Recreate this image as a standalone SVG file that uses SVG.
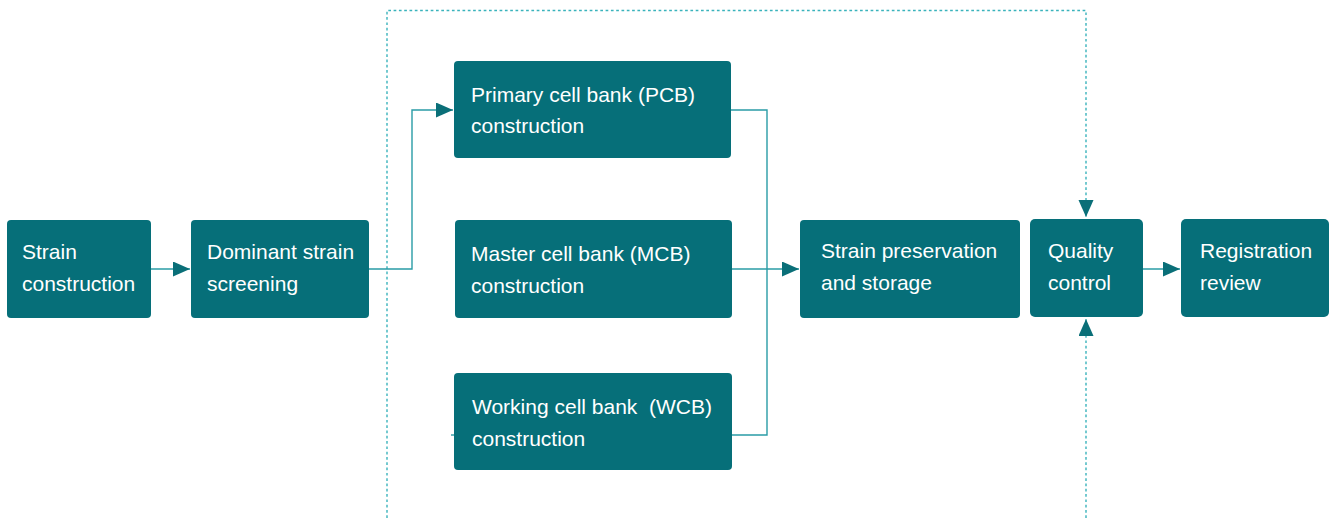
<svg xmlns="http://www.w3.org/2000/svg" width="1331" height="518" viewBox="0 0 1331 518">
<style>
.box{fill:#066f79;}
.t{font-family:"Liberation Sans",Arial,sans-serif;font-size:21px;fill:#ffffff;}
.ln{fill:none;stroke:#2a9ca6;stroke-width:1.4;}
.dot{fill:none;stroke:#3ab3bc;stroke-width:1.4;stroke-dasharray:2.7 2.6;}
</style>
<defs>
<marker id="ah" markerUnits="userSpaceOnUse" markerWidth="18" markerHeight="16" refX="17" refY="7.5" orient="auto">
<path d="M0,0 L17,7.5 L0,15 z" fill="#0a6f78"/>
</marker>
</defs>
<rect width="1331" height="518" fill="#ffffff"/>
<g id="connectors">
<path class="dot" d="M387,518 V10.5 H1086 V217" marker-end="url(#ah)"/>
<path class="dot" d="M1086,518 V319" marker-end="url(#ah)"/>
<path class="ln" d="M151,269 H190" marker-end="url(#ah)"/>
<path class="ln" d="M369,269 H412 V110 H453" marker-end="url(#ah)"/>
<path class="ln" d="M731,110 H767 V435 H732"/>
<path class="ln" d="M732,269 H799" marker-end="url(#ah)"/>
<path class="ln" d="M451,435 H455"/>
<path class="ln" d="M1143,269 H1180" marker-end="url(#ah)"/>
</g>
<g id="strain-construction">
<rect class="box" x="7" y="220" width="144" height="98" rx="4"/>
<text class="t" x="22" y="259">Strain</text>
<text class="t" x="22" y="291">construction</text>
</g>
<g id="dominant-strain-screening">
<rect class="box" x="191" y="220" width="178" height="98" rx="4"/>
<text class="t" x="207" y="259">Dominant strain</text>
<text class="t" x="207" y="291">screening</text>
</g>
<g id="pcb">
<rect class="box" x="454" y="61" width="277" height="97" rx="4"/>
<text class="t" x="471" y="102">Primary cell bank (PCB)</text>
<text class="t" x="471" y="133">construction</text>
</g>
<g id="mcb">
<rect class="box" x="455" y="220" width="277" height="98" rx="4"/>
<text class="t" x="471" y="261">Master cell bank (MCB)</text>
<text class="t" x="471" y="293">construction</text>
</g>
<g id="wcb">
<rect class="box" x="454" y="373" width="278" height="97" rx="4"/>
<text class="t" x="472" y="414" xml:space="preserve">Working cell bank  (WCB)</text>
<text class="t" x="472" y="446">construction</text>
</g>
<g id="strain-preservation">
<rect class="box" x="800" y="220" width="220" height="98" rx="4"/>
<text class="t" x="821" y="258">Strain preservation</text>
<text class="t" x="821" y="290">and storage</text>
</g>
<g id="quality-control">
<rect class="box" x="1030" y="219" width="113" height="98" rx="5"/>
<text class="t" x="1048" y="258">Quality</text>
<text class="t" x="1048" y="290">control</text>
</g>
<g id="registration-review">
<rect class="box" x="1181" y="219" width="148" height="98" rx="5"/>
<text class="t" x="1200" y="258">Registration</text>
<text class="t" x="1200" y="290">review</text>
</g>
</svg>
